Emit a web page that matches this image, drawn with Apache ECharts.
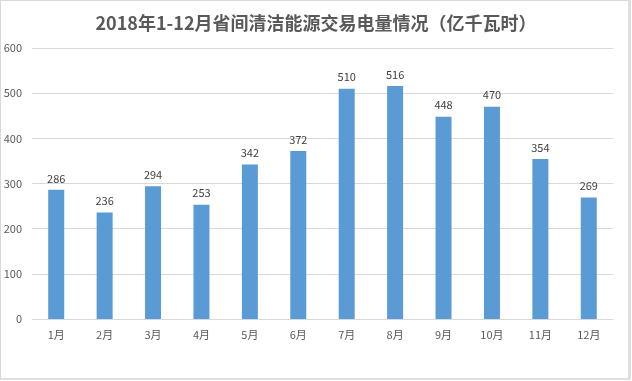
<!DOCTYPE html>
<html><head><meta charset="utf-8">
<script src="https://cdn.jsdelivr.net/npm/echarts@6/dist/echarts.min.js"></script>
<style>
html,body{margin:0;padding:0;background:#fff;}
#frame{position:absolute;left:0;top:0;width:627px;height:377px;border:1px solid #d9d9d9;border-right:3px solid #e0e0e0;border-bottom:2px solid #e0e0e0;}
#c{position:absolute;left:0;top:0;width:632px;height:381px;}
</style></head>
<body>
<div id="frame"></div>
<div id="c"></div>
<script>
const categories = ['1月','2月','3月','4月','5月','6月','7月','8月','9月','10月','11月','12月'];
const values = [286,236,294,253,342,372,510,516,448,470,354,269];
const titleText = '2018年1-12月省间清洁能源交易电量情况（亿千瓦时）';
const chart = echarts.init(document.getElementById('c'));
const font = '"Microsoft YaHei","Noto Sans CJK SC",sans-serif';
chart.setOption({
  animation:false,
  title:{text:titleText,left:'center',top:9,textStyle:{fontSize:18,fontWeight:'bold',color:'#595959',fontFamily:font}},
  grid:{left:32,right:19,top:48,bottom:62},
  xAxis:{type:'category',data:categories,axisTick:{show:false},
    axisLine:{lineStyle:{color:'#d9d9d9'}},
    axisLabel:{color:'#595959',fontSize:11,margin:10,fontFamily:font}},
  yAxis:{type:'value',min:0,max:600,interval:100,
    axisLine:{show:false},axisTick:{show:false},
    splitLine:{lineStyle:{color:'#d9d9d9'}},
    axisLabel:{color:'#595959',fontSize:11,margin:10,fontFamily:font}},
  series:[{type:'bar',data:values,barWidth:16,itemStyle:{color:'#5b9bd5'},
    label:{show:true,position:'top',color:'#404040',fontSize:11,distance:6,fontFamily:font}}]
});
</script>
</body></html>
